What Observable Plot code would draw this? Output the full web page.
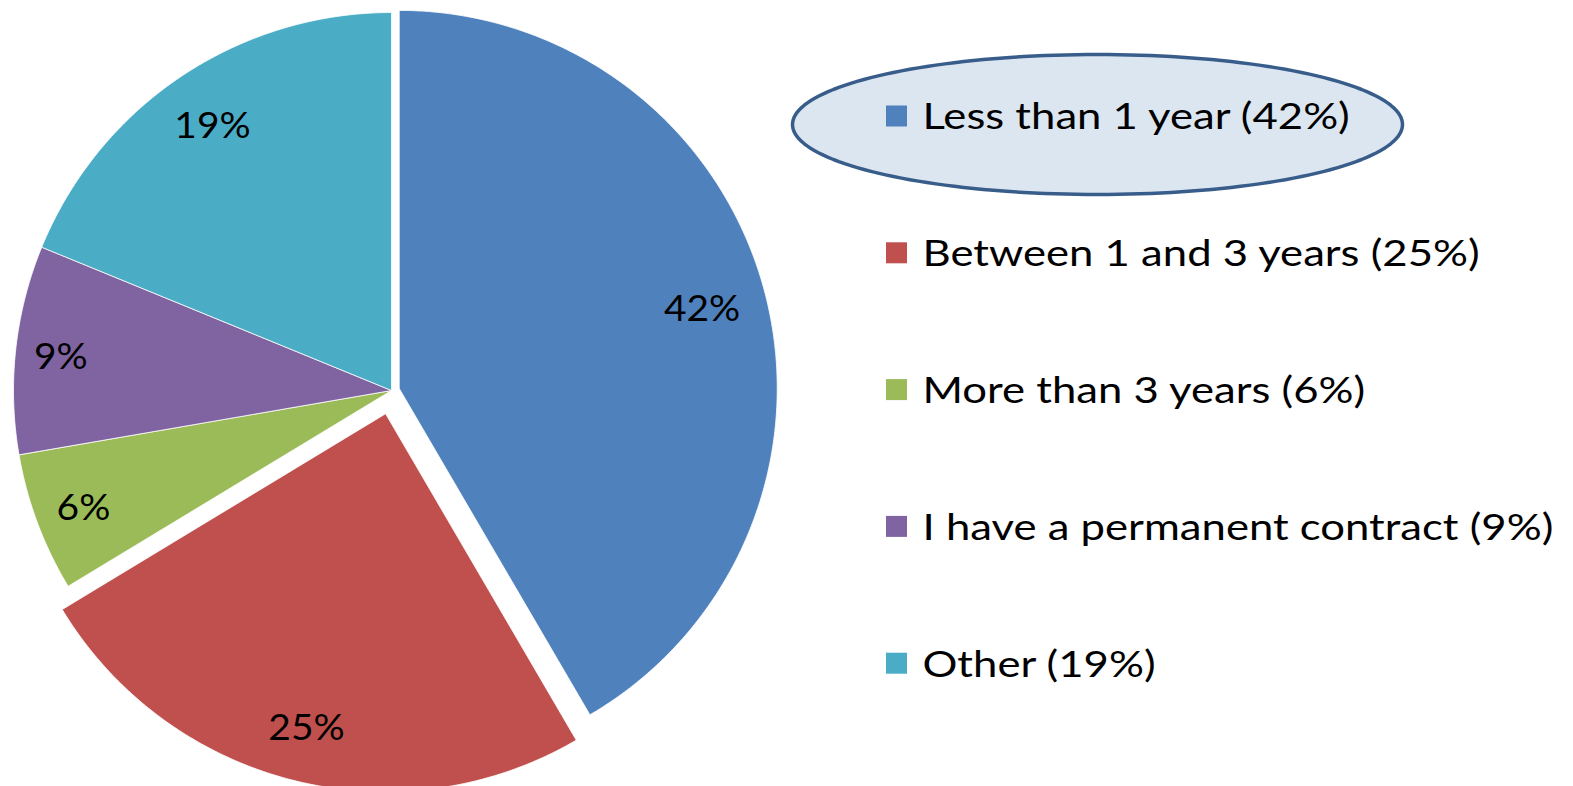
<!DOCTYPE html>
<html><head><meta charset="utf-8">
<script src="https://cdn.jsdelivr.net/npm/d3@7"></script>
<script src="https://cdn.jsdelivr.net/npm/@observablehq/plot@0.6"></script>
<style>body{margin:0;background:#fff;overflow:hidden}</style>
</head><body><div id="chart"></div>
<script>
// ---- data ----
const categories = ["Less than 1 year", "Between 1 and 3 years", "More than 3 years", "I have a permanent contract", "Other"];
const values = [42, 25, 6, 9, 19];
const colors = ["#4f81bd", "#c0504d", "#9bbb59", "#8064a2", "#4bacc6"];

// ---- layout ----
const W = 1573, H = 786;
const cx = 391, cy = 390, R = 378;
const explodeBy = {"Less than 1 year": 8, "Between 1 and 3 years": 24};
const labelFrac = {"Less than 1 year": 0.83, "Between 1 and 3 years": 0.85, "More than 3 years": 0.87, "I have a permanent contract": 0.88, "Other": 0.85};
const fontFamily = "Lato, 'Open Sans', sans-serif";

const rows = categories.map((c, i) => ({cat: c, value: values[i]}));
const arcs = d3.pie().sort(null).value(d => d.value)(rows);

const slicePts = [];
const labels = [];
arcs.forEach(a => {
  const mid = (a.startAngle + a.endAngle) / 2;
  const off = explodeBy[a.data.cat] || 0;
  const ox = cx + Math.sin(mid) * off, oy = cy - Math.cos(mid) * off;
  slicePts.push({cat: a.data.cat, x: ox, y: oy});
  const n = Math.max(8, Math.ceil((a.endAngle - a.startAngle) / 0.01));
  for (let k = 0; k <= n; k++) {
    const t = a.startAngle + (a.endAngle - a.startAngle) * k / n;
    slicePts.push({cat: a.data.cat, x: ox + Math.sin(t) * R, y: oy - Math.cos(t) * R});
  }
  slicePts.push({cat: a.data.cat, x: ox, y: oy});
  const f = labelFrac[a.data.cat];
  labels.push({cat: a.data.cat, text: a.data.value + "%",
    x: ox + Math.sin(mid) * R * f, y: oy - Math.cos(mid) * R * f + 3});
});

// legend highlight ellipse
const ex = 1097, ey = 124, erx = 305, ery = 70;
const ellipse = d3.range(0, 361, 2).map(d => ({x: ex + erx * Math.cos(d * Math.PI / 180), y: ey + ery * Math.sin(d * Math.PI / 180)}));

const legendRows = rows.map((r, i) => ({cat: r.cat, label: `${r.cat} (${r.value}%)`, y: 116 + i * 136.8}));

const chart = Plot.plot({
  width: W, height: H,
  margin: 0,
  x: {domain: [0, W], range: [0, W], axis: null},
  y: {domain: [0, H], range: [0, H], axis: null},
  color: {domain: categories, range: colors},
  style: {fontFamily, background: "white"},
  marks: [
    Plot.line(slicePts, {x: "x", y: "y", z: "cat", fill: "cat", stroke: "white", strokeWidth: 0.8, curve: "linear"}),
    Plot.text(labels, {x: "x", y: "y", text: "text", fontSize: 36, fill: "black", className: "pie-label"}),
    Plot.line(ellipse, {x: "x", y: "y", fill: "#dce6f1", stroke: "#385d8a", strokeWidth: 3.5}),
    Plot.rect(legendRows, {x1: 886, x2: 907, y1: d => d.y - 10.5, y2: d => d.y + 10.5, fill: "cat"}),
    Plot.text(legendRows, {x: 922, y: d => d.y + 1, text: "label", textAnchor: "start", fontSize: 37, fill: "black", className: "legend-label"})
  ]
});
document.getElementById("chart").appendChild(chart);

// widen glyphs to match the reference's wider typeface
function stretch(sel, k) {
  d3.select(chart).selectAll(sel).each(function () {
    const w = this.getComputedTextLength();
    this.setAttribute("textLength", w * k);
    this.setAttribute("lengthAdjust", "spacingAndGlyphs");
  });
}
stretch(".legend-label text", 1.18);
stretch(".pie-label text", 1.08);
</script>
</body></html>
